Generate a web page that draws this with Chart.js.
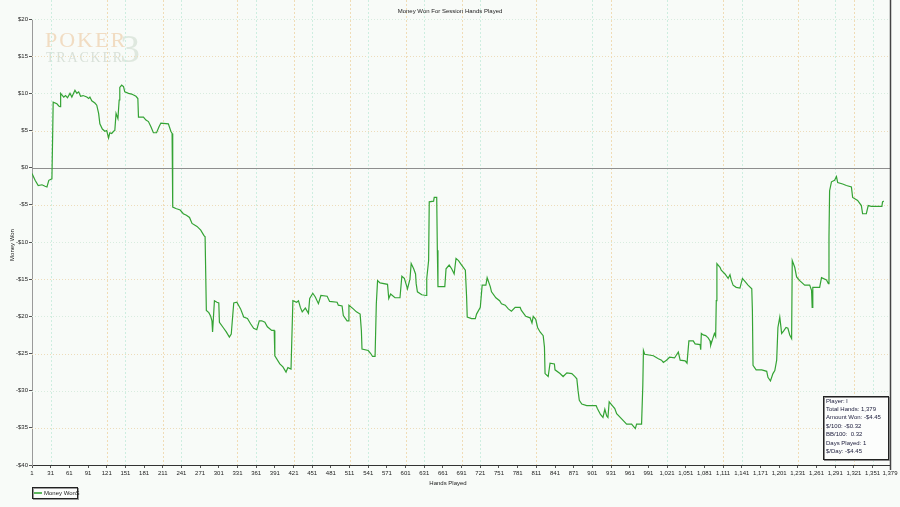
<!DOCTYPE html>
<html>
<head>
<meta charset="utf-8">
<script src="https://cdn.jsdelivr.net/npm/chart.js@4"></script>
<style>
html, body { margin: 0; padding: 0; background: #f8fbf8; }
canvas { display: block; }
</style>
</head>
<body>
<canvas id="moneyChart" width="900" height="507"></canvas>
<script>
// hands played (x) and cumulative money won (y)
const hands = [
    1, 6, 11, 17, 22, 25, 28, 33, 34, 35, 41, 44, 46, 47, 52, 55, 58, 62, 65, 70,
    73, 76, 79, 83, 89, 92, 94, 97, 102, 105, 108, 110, 114, 118, 121, 124, 126, 129, 132, 134,
    136, 139, 141, 142, 145, 148, 150, 156, 161, 168, 171, 172, 180, 184, 188, 192, 196, 201, 205, 208,
    220, 224, 226, 227, 232, 239, 244, 249, 254, 258, 266, 272, 277, 279, 281, 285, 288, 290, 291, 294,
    298, 301, 302, 308, 313, 318, 321, 323, 325, 330, 336, 341, 347, 352, 357, 362, 366, 370, 375, 379,
    386, 390, 391, 399, 404, 409, 412, 417, 420, 426, 429, 432, 435, 440, 445, 447, 452, 456, 461, 465,
    475, 479, 491, 493, 499, 501, 507, 509, 510, 517, 522, 528, 530, 531, 541, 545, 548, 552, 554, 556,
    560, 572, 574, 577, 584, 592, 595, 599, 603, 604, 608, 610, 614, 617, 618, 620, 627, 634, 635, 638,
    639, 646, 647, 651, 652, 653, 664, 666, 671, 675, 679, 682, 686, 691, 697, 699, 700, 707, 713, 715,
    721, 724, 730, 732, 737, 739, 746, 752, 755, 761, 766, 771, 777, 785, 787, 794, 801, 804, 806, 810,
    813, 817, 822, 824, 825, 830, 833, 840, 841, 849, 854, 860, 868, 873, 876, 878, 880, 884, 892, 907,
    909, 914, 918, 921, 924, 926, 928, 932, 937, 940, 948, 956, 964, 968, 970, 972, 980, 982, 983, 985,
    999, 1007, 1012, 1015, 1020, 1025, 1033, 1039, 1042, 1050, 1053, 1056, 1063, 1066, 1074, 1075, 1076, 1079, 1083, 1087,
    1090, 1091, 1094, 1097, 1099, 1100, 1101, 1106, 1108, 1114, 1119, 1122, 1124, 1127, 1132, 1138, 1142, 1146, 1151, 1157,
    1158, 1159, 1164, 1173, 1181, 1183, 1187, 1191, 1194, 1197, 1199, 1202, 1205, 1208, 1212, 1215, 1218, 1221, 1222, 1226,
    1229, 1234, 1242, 1250, 1253, 1254, 1255, 1266, 1269, 1277, 1280, 1281, 1282, 1285, 1290, 1293, 1295, 1303, 1309, 1317,
    1319, 1327, 1333, 1335, 1341, 1344, 1349, 1366, 1367, 1369
];
const moneyWon = [
    -0.8, -1.7, -2.4, -2.3, -2.5, -2.6, -1.7, -1.5, 3.5, 8.8, 8.6, 8.3, 8.2, 10.0, 9.5, 9.7, 9.4, 10.0, 9.5, 10.4,
    10.0, 10.2, 9.6, 9.7, 9.5, 9.3, 9.5, 9.0, 8.7, 8.4, 7.3, 5.9, 5.2, 4.9, 5.0, 4.0, 4.7, 4.6, 4.9, 5.0,
    7.3, 6.6, 9.1, 10.8, 11.1, 10.9, 10.2, 10.0, 9.9, 9.6, 9.3, 6.8, 6.8, 6.4, 6.2, 5.5, 4.7, 4.7, 5.5, 6.0,
    5.9, 4.9, 4.6, -5.3, -5.5, -5.7, -6.2, -6.4, -6.7, -7.5, -7.9, -8.4, -9.1, -9.3, -19.2, -19.5, -20.0, -20.6, -22.1, -17.9,
    -18.1, -18.2, -20.8, -21.5, -22.1, -22.8, -22.4, -20.3, -18.2, -18.1, -19.0, -20.1, -20.3, -21.0, -21.6, -21.8, -20.6, -20.6, -20.8, -21.4,
    -21.9, -21.9, -25.3, -26.4, -26.8, -27.5, -26.9, -27.1, -17.9, -18.1, -17.9, -18.8, -19.4, -18.9, -19.6, -17.6, -16.9, -17.4, -18.3, -17.2,
    -17.3, -18.0, -18.1, -18.5, -18.6, -19.9, -20.6, -20.6, -18.5, -19.0, -19.4, -19.7, -21.9, -24.4, -24.6, -25.0, -25.4, -25.4, -18.3, -15.2,
    -15.5, -15.7, -17.6, -17.0, -17.5, -17.5, -14.6, -14.9, -16.0, -16.3, -15.0, -12.9, -13.6, -14.3, -15.6, -16.7, -17.1, -17.2, -14.9, -12.5,
    -4.6, -4.5, -4.0, -4.0, -11.1, -16.0, -16.0, -13.6, -13.1, -13.6, -14.3, -12.2, -12.5, -13.1, -13.8, -17.4, -20.1, -20.3, -20.3, -19.7,
    -18.8, -15.8, -15.8, -14.8, -16.0, -16.7, -17.5, -17.9, -18.3, -18.5, -19.0, -19.3, -18.8, -18.8, -19.2, -20.0, -20.2, -20.9, -20.0, -20.4,
    -21.5, -22.1, -22.6, -24.1, -27.7, -28.1, -26.3, -26.4, -27.2, -27.7, -28.1, -27.6, -27.7, -28.1, -28.4, -30.0, -31.3, -31.8, -32.0, -32.0,
    -32.4, -33.2, -33.6, -32.5, -33.4, -33.6, -31.5, -31.9, -32.4, -33.1, -33.8, -34.5, -34.5, -34.9, -35.1, -34.5, -34.5, -29.3, -24.6, -25.1,
    -25.3, -25.7, -25.9, -26.2, -25.9, -25.5, -25.6, -24.8, -25.9, -26.0, -26.3, -23.3, -23.3, -23.7, -23.8, -24.5, -22.3, -22.5, -22.6, -22.9,
    -23.3, -23.9, -23.1, -22.3, -22.7, -17.9, -12.9, -13.4, -13.8, -14.3, -14.9, -14.4, -15.1, -15.8, -16.1, -16.2, -14.9, -15.3, -15.8, -16.3,
    -19.2, -26.6, -27.2, -27.2, -27.4, -28.2, -28.7, -27.7, -27.3, -25.9, -21.5, -20.1, -22.3, -22.0, -21.5, -21.6, -22.5, -23.0, -12.5, -13.4,
    -14.7, -15.2, -15.8, -15.8, -16.5, -18.8, -16.1, -16.1, -14.8, -15.1, -15.6, -9.3, -3.1, -1.9, -1.7, -1.2, -2.0, -2.2, -2.4, -2.6,
    -4.0, -4.4, -5.1, -6.2, -6.2, -5.1, -5.2, -5.2, -4.6, -4.5
];

// tick labels
const xTickHands = [1, 31, 61, 91, 121, 151, 181, 211, 241, 271, 301, 331, 361, 391, 421, 451, 481, 511, 541, 571,
    601, 631, 661, 691, 721, 751, 781, 811, 841, 871, 901, 931, 961, 991, 1021, 1051, 1081, 1111, 1141, 1171,
    1201, 1231, 1261, 1291, 1321, 1351, 1379];
const yTickValues = [20, 15, 10, 5, 0, -5, -10, -15, -20, -25, -30, -35, -40];

// only some of the vertical grid lines survive in the picture
const gridHands = [31, 121, 151, 211, 241, 331, 361, 421, 451, 511, 541, 601, 631, 691, 721, 811, 901, 931,
    1021, 1111, 1141, 1231, 1291, 1321, 1351];

const infoLines = ['Player: l', 'Total Hands: 1,379', 'Amount Won: -$4.45', '$/100: -$0.32',
    'BB/100:  0.32', 'Days Played: 1', '$/Day: -$4.45'];

const smallFont = '6px "Liberation Sans", Arial, sans-serif';

function formatMoney(v) {
    return v < 0 ? '-$' + (-v) : '$' + v;
}

function spacedText(ctx, text, x, y, gap) {
    for (const ch of text) {
        ctx.fillText(ch, x, y);
        x += ctx.measureText(ch).width + gap;
    }
}

function drawWatermark(ctx) {
    ctx.save();
    ctx.textBaseline = 'alphabetic';
    ctx.font = '40px "Liberation Serif", serif';
    ctx.fillStyle = '#dfe8df';
    ctx.fillText('3', 120, 62);
    ctx.font = '22px "Liberation Serif", serif';
    ctx.fillStyle = '#f1dcc2';
    spacedText(ctx, 'POKER', 45, 47, 2);
    ctx.font = '14px "Liberation Serif", serif';
    ctx.fillStyle = '#d9e1d9';
    spacedText(ctx, 'TRACKER', 46, 62, 1.8);
    ctx.restore();
}

const decorPlugin = {
    id: 'decor',
    beforeDraw(chart) {
        const ctx = chart.ctx;
        ctx.save();
        ctx.fillStyle = '#f8fbf8';
        ctx.fillRect(0, 0, chart.width, chart.height);
        ctx.restore();
        drawWatermark(ctx);
    },
    beforeDatasetsDraw(chart) {
        const { ctx, chartArea: a, scales } = chart;
        ctx.save();
        ctx.lineWidth = 1;
        // dotted horizontal grid
        ctx.setLineDash([1, 2]);
        yTickValues.forEach((v, i) => {
            if (v === 0 || v === -40) return;
            const py = Math.round(scales.y.getPixelForValue(v)) + 0.5;
            ctx.strokeStyle = i % 2 ? '#eddcbb' : '#d8ecdf';
            ctx.beginPath();
            ctx.moveTo(a.left, py);
            ctx.lineTo(a.right, py);
            ctx.stroke();
        });
        // dashed vertical grid
        ctx.setLineDash([2, 2]);
        gridHands.forEach((h, i) => {
            const px = Math.round(scales.x.getPixelForValue(h)) + 0.5;
            ctx.strokeStyle = i % 2 ? '#f0dcb6' : '#cdeee0';
            ctx.beginPath();
            ctx.moveTo(px, a.top - 19);
            ctx.lineTo(px, a.bottom);
            ctx.stroke();
        });
        // zero marker
        ctx.setLineDash([]);
        ctx.strokeStyle = '#8e8e8e';
        const zy = Math.round(scales.y.getPixelForValue(0)) + 0.5;
        ctx.beginPath();
        ctx.moveTo(a.left, zy);
        ctx.lineTo(a.right, zy);
        ctx.stroke();
        ctx.restore();
    },
    afterDraw(chart) {
        const { ctx, chartArea: a } = chart;
        ctx.save();
        ctx.font = smallFont;
        ctx.fillStyle = '#222';
        ctx.textBaseline = 'middle';

        // titles
        ctx.textAlign = 'center';
        ctx.fillText('Money Won For Session Hands Played', 450, 11);
        ctx.fillText('Hands Played', 448, 483);
        ctx.save();
        ctx.translate(12, 245);
        ctx.rotate(-Math.PI / 2);
        ctx.fillText('Money Won', 0, 0);
        ctx.restore();

        // right frame line
        ctx.strokeStyle = '#444';
        ctx.lineWidth = 1.5;
        ctx.beginPath();
        ctx.moveTo(a.right + 0.5, 0);
        ctx.lineTo(a.right + 0.5, a.bottom + 5);
        ctx.stroke();

        // stats box
        ctx.lineWidth = 1;
        ctx.fillStyle = '#fcfdfc';
        ctx.fillRect(823.5, 396.5, 65, 63);
        ctx.strokeStyle = '#888';
        ctx.strokeRect(824.5, 397.5, 65, 63);
        ctx.strokeStyle = '#222';
        ctx.strokeRect(823.5, 396.5, 65, 63);
        ctx.textAlign = 'left';
        ctx.fillStyle = '#1a1a3a';
        infoLines.forEach((line, i) => {
            ctx.fillText(line, 826, 401 + i * 8.4);
        });

        // legend
        ctx.fillStyle = '#fcfdfc';
        ctx.fillRect(32.5, 487.5, 45, 11);
        ctx.strokeStyle = '#999';
        ctx.strokeRect(33.5, 488.5, 45, 11);
        ctx.strokeStyle = '#222';
        ctx.strokeRect(32.5, 487.5, 45, 11);
        ctx.strokeStyle = '#2aa02a';
        ctx.lineWidth = 1.5;
        ctx.beginPath();
        ctx.moveTo(34, 493);
        ctx.lineTo(42, 493);
        ctx.stroke();
        ctx.fillStyle = '#222';
        ctx.fillText('Money Won$', 44, 493);
        ctx.restore();
    }
};

const ctx = document.getElementById('moneyChart').getContext('2d');
const chart = new Chart(ctx, {
    type: 'line',
    data: {
        datasets: [{
            label: 'Money Won$',
            data: hands.map((h, i) => ({ x: h, y: moneyWon[i] })),
            borderColor: '#34a334',
            borderWidth: 1.2,
            pointRadius: 0,
            fill: false,
            tension: 0
        }]
    },
    options: {
        responsive: false,
        animation: false,
        devicePixelRatio: 1,
        layout: { padding: { top: 19, right: 10, bottom: 0, left: 0 } },
        plugins: {
            legend: { display: false },
            title: { display: false },
            tooltip: { enabled: false }
        },
        scales: {
            x: {
                type: 'linear',
                min: 1,
                max: 1379,
                afterBuildTicks: scale => { scale.ticks = xTickHands.map(v => ({ value: v })); },
                afterFit: scale => { scale.height = 42; },
                grid: { drawOnChartArea: false, drawTicks: true, tickLength: 3, tickColor: '#555' },
                border: { color: '#333', width: 1, dash: [3, 1] },
                ticks: {
                    autoSkip: false,
                    maxRotation: 0,
                    padding: 2,
                    color: '#222',
                    font: { family: '"Liberation Sans", Arial, sans-serif', size: 6 },
                    callback: value => value.toLocaleString('en-US')
                }
            },
            y: {
                min: -40,
                max: 20,
                afterBuildTicks: scale => { scale.ticks = yTickValues.map(v => ({ value: v })); },
                afterFit: scale => { scale.width = 32; },
                grid: { drawOnChartArea: false, drawTicks: true, tickLength: 3, tickColor: '#555' },
                border: { color: '#9a9a9a', width: 1 },
                ticks: {
                    padding: 1,
                    color: '#222',
                    font: { family: '"Liberation Sans", Arial, sans-serif', size: 6 },
                    callback: value => formatMoney(value)
                }
            }
        }
    },
    plugins: [decorPlugin]
});
</script>
</body>
</html>
